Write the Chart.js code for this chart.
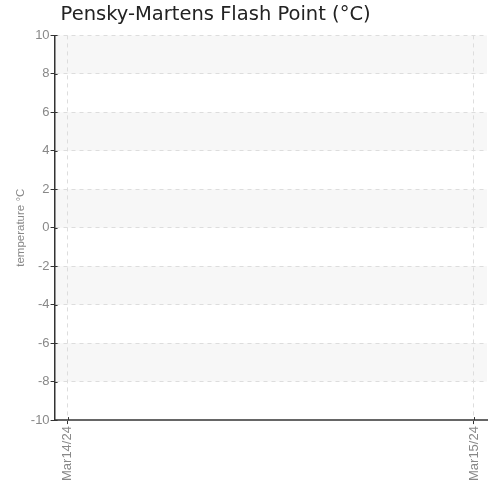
<!DOCTYPE html>
<html>
<head>
<meta charset="utf-8">
<script src="https://cdn.jsdelivr.net/npm/chart.js@4"></script>
<style>
  html, body { margin: 0; padding: 0; background: #fff; }
  #wrap { width: 492px; height: 484px; }
</style>
</head>
<body>
<div id="wrap"><canvas id="grafico"></canvas></div>
<script>
// datos del grafico
const fechas = ['Mar14/24', 'Mar15/24'];
const flashPoint = [null, null];   // sin lecturas
const yMin = -10, yMax = 10, yPaso = 2;

const narrow = "'Liberation Sans', Arial, sans-serif";

// bandas grises alternas entre lineas de la escala y
const bandas = {
    id: 'bandas',
    beforeDraw(chart) {
        const { ctx, chartArea: a, scales: { y } } = chart;
        const ticks = y.ticks.map(t => t.value).sort((p, q) => q - p);
        ctx.save();
        ctx.fillStyle = '#f7f7f7';
        for (let i = 0; i < ticks.length - 1; i += 2) {
            const t = y.getPixelForValue(ticks[i]);
            const b = y.getPixelForValue(ticks[i + 1]);
            ctx.fillRect(a.left, t, a.right - a.left, b - t);
        }
        ctx.restore();
    },
    afterLayout(chart) {
        chart.titleBlock.left = chart.chartArea.left + 6;
    },
    // marcas cortas hacia dentro del eje
    afterDraw(chart) {
        const { ctx, chartArea: a, scales: { x, y } } = chart;
        ctx.save();
        ctx.strokeStyle = '#333';
        ctx.lineWidth = 1;
        ctx.beginPath();
        y.ticks.forEach(t => {
            const py = Math.round(y.getPixelForValue(t.value)) + 0.5;
            ctx.moveTo(a.left, py); ctx.lineTo(a.left + 3, py);
        });
        x.ticks.forEach(t => {
            const px = Math.round(x.getPixelForValue(t.value)) + 0.5;
            ctx.moveTo(px, a.bottom); ctx.lineTo(px, a.bottom - 3);
        });
        ctx.stroke();
        ctx.restore();
    }
};

new Chart(document.getElementById('grafico').getContext('2d'), {
    type: 'line',
    data: {
        datasets: [{
            label: 'Flash Point',
            data: flashPoint.map((v, i) => ({ x: i, y: v })),
            borderColor: '#003366',
            pointRadius: 3
        }]
    },
    options: {
        responsive: true,
        maintainAspectRatio: false,
        animation: false,
        layout: { padding: { right: 4, bottom: 1 } },
        plugins: {
            legend: { display: false },
            tooltip: { enabled: false },
            title: {
                display: true,
                text: 'Pensky-Martens Flash Point (°C)',
                align: 'start',
                fullSize: false,
                color: '#222',
                font: { family: "'DejaVu Sans', sans-serif", size: 19.5, weight: 'normal' },
                padding: { top: 3, bottom: 9 }
            }
        },
        scales: {
            x: {
                type: 'linear',
                min: -0.032,
                max: (fechas.length - 1) + 0.032,
                afterBuildTicks: s => { s.ticks = fechas.map((f, i) => ({ value: i })); },
                ticks: {
                    callback: v => fechas[v],
                    minRotation: 90, maxRotation: 90,
                    color: '#888',
                    padding: 2,
                    font: { family: narrow, size: 13 }
                },
                grid: { color: '#ddd', tickColor: '#333', tickLength: 4, tickBorderDash: [] },
                border: { color: '#666', width: 2, dash: [4, 4] }
            },
            y: {
                min: yMin, max: yMax,
                ticks: { stepSize: yPaso, color: '#888', padding: 1, font: { family: narrow, size: 13 } },
                title: { display: true, text: 'temperature °C', color: '#888', font: { family: narrow, size: 11.5 }, padding: { top: 14, bottom: 2 } },
                grid: { color: '#ddd', tickColor: '#333', tickLength: 4, tickBorderDash: [] },
                border: { color: '#333', width: 1.5, dash: [4, 4] }
            }
        }
    },
    plugins: [bandas]
});
</script>
</body>
</html>
